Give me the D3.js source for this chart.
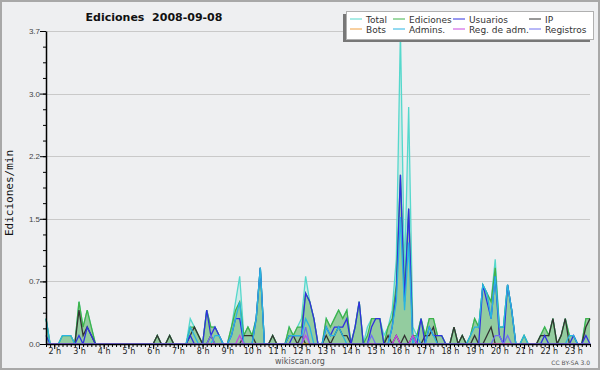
<!DOCTYPE html>
<html>
<head>
<meta charset="utf-8">
<script src="https://cdn.jsdelivr.net/npm/d3@7"></script>
<style>
body { margin: 0; background: #fff; }
svg { display: block; }
text { white-space: pre; }
</style>
</head>
<body>
<svg id="chart"></svg>
<script>
// edits per 10 minutes, one value every 10 min from 01:40 to 23:40
const startTime = new Date(2008, 8, 8, 1, 40);
const endTime = new Date(2008, 8, 8, 23, 40);

const total = [
  3,0,0,0,1,1,1,0,5,2,4,2,
  0,0,0,0,0,0,0,0,0,0,0,0,
  0,0,0,1,0,0,1,0,0,0,0,3,
  2,1,0,4,2,2,1,0,0,2,5,8,
  1,2,1,3,9,0,0,1,0,0,0,2,
  1,2,3,8,5,3,0,0,3,2,3,4,
  3,4,0,2,5,0,2,3,3,3,1,2,
  4,10,37,8,28,2,1,3,1,3,3,1,
  1,0,0,2,0,1,0,1,3,2,7,6,
  5,10,2,2,7,4,0,0,1,0,0,0,
  1,2,1,3,0,1,3,1,1,0,0,3,
  3];
const ediciones = [
  3,0,0,0,1,1,1,0,5,2,4,2,
  0,0,0,0,0,0,0,0,0,0,0,0,
  0,0,0,1,0,0,1,0,0,0,0,2,
  2,1,0,4,2,2,1,0,0,2,4,5,
  1,2,1,3,9,0,0,1,0,0,0,2,
  1,2,2,6,5,3,0,0,3,2,3,4,
  3,4,0,2,5,0,1,3,3,3,0,2,
  3,7,20,6,16,1,1,3,1,3,3,1,
  1,0,0,2,0,1,0,1,3,2,7,6,
  5,9,2,2,7,4,0,0,1,0,0,0,
  1,2,1,3,0,1,3,1,1,0,0,3,
  3];
const usuarios = [
  1,0,0,0,0,0,0,0,1,0,2,1,
  0,0,0,0,0,0,0,0,0,0,0,0,
  0,0,0,0,0,0,0,0,0,0,0,1,
  0,0,0,4,1,2,1,0,0,1,3,3,
  0,0,0,3,9,0,0,0,0,0,0,0,
  1,1,1,6,5,3,0,0,2,1,2,2,
  2,3,0,2,5,0,0,2,3,3,0,0,
  2,6,20,5,16,0,0,3,0,2,1,1,
  1,0,0,0,0,0,0,0,0,0,7,5,
  3,8,1,0,7,4,0,0,0,0,0,0,
  0,1,0,0,0,0,0,0,1,0,0,1,
  0];
const ip = [
  0,0,0,0,0,0,0,0,4,1,2,1,
  0,0,0,0,0,0,0,0,0,0,0,0,
  0,0,0,1,0,0,1,0,0,0,0,1,
  2,1,0,0,1,0,0,0,0,0,0,0,
  1,1,1,0,0,0,0,1,0,0,0,1,
  1,0,1,0,0,0,0,0,1,0,1,2,
  1,1,0,0,0,0,0,0,0,0,0,1,
  0,1,0,1,0,1,0,0,1,1,2,0,
  0,0,0,2,0,1,0,0,1,0,0,1,
  2,0,0,0,0,0,0,0,0,0,0,0,
  1,1,1,3,0,1,3,0,0,0,0,2,
  3];
const bots = [
  0,0,0,0,0,0,0,0,0,0,0,0,
  0,0,0,0,0,0,0,0,0,0,0,0,
  0,0,0,0,0,0,0,0,0,0,0,0,
  0,0,0,0,0,0,0,0,0,0,0,0,
  0,0,0,0,0,0,0,0,0,0,0,0,
  0,0,0,0,0,0,0,0,0,0,0,0,
  0,0,0,0,0,0,0,0,0,0,0,0,
  0,0,0,0,0,0,0,0,0,0,0,0,
  0,0,0,0,0,0,0,0,0,0,0,0,
  0,0,0,0,0,0,0,0,0,0,0,0,
  0,0,0,0,0,0,0,0,0,0,0,0,
  0];
const admins = [
  3,0,0,0,1,1,1,0,0,0,0,0,
  0,0,0,0,0,0,0,0,0,0,0,0,
  0,0,0,0,0,0,0,0,0,0,0,2,
  1,0,0,0,0,1,1,0,0,1,3,5,
  0,0,0,3,9,0,0,0,0,0,0,1,
  1,1,1,3,2,0,0,0,2,1,1,2,
  1,0,0,0,0,0,0,0,0,0,0,0,
  2,5,15,4,12,0,1,0,0,2,1,0,
  0,0,0,0,0,0,0,1,2,2,7,6,
  3,8,2,2,7,4,0,0,1,0,0,0,
  0,0,0,0,0,0,0,1,1,0,0,0,
  0];
const regAdm = [
  0,0,0,0,0,0,0,0,0,0,0,0,
  0,0,0,0,0,0,0,0,0,0,0,0,
  0,0,0,0,0,0,0,0,0,0,0,0,
  0,0,0,0,0,0,0,0,0,0,0,1,
  0,0,0,0,0,0,0,0,0,0,0,0,
  0,0,0,1,0,0,0,0,0,0,0,0,
  0,0,0,0,0,0,0,0,0,0,0,0,
  0,1,0,0,0,1,0,0,0,0,0,0,
  0,0,0,0,0,0,0,0,0,0,0,0,
  0,0,0,0,0,0,0,0,0,0,0,0,
  0,0,0,0,0,0,0,0,0,0,0,0,
  0];
const registros = [
  0,0,0,0,0,0,0,0,0,0,0,0,
  0,0,0,0,0,0,0,0,0,0,0,0,
  0,0,0,0,0,0,0,0,0,0,0,0,
  0,0,0,0,1,0,0,0,0,0,0,0,
  0,0,0,0,0,0,0,0,0,0,0,0,
  0,0,0,2,0,0,0,0,0,0,0,0,
  0,0,0,0,0,0,0,1,0,0,0,0,
  0,0,0,0,0,0,0,0,0,0,0,0,
  0,0,0,0,0,0,0,0,0,0,0,0,
  0,1,1,0,1,0,0,0,0,0,0,0,
  0,0,0,0,0,0,0,0,0,0,0,0,
  0];

const yMax = 3.7;
const hourLabels = d3.range(2, 24);

const series = [
  { name: "Total", values: total, color: "#55d8cc", fill: "rgba(150,225,215,0.35)" },
  { name: "Ediciones", values: ediciones, color: "#3fb34a", fill: "#93cc9f" },
  { name: "IP", values: ip, color: "#333333" },
  { name: "Usuarios", values: usuarios, color: "#3030e0" },
  { name: "Bots", values: bots, color: "#f0a040" },
  { name: "Admins.", values: admins, color: "#28b4e2" },
  { name: "Reg. de adm.", values: regAdm, color: "#c848e0" },
  { name: "Registros", values: registros, color: "#7070f0" }
];
const legendOrder = [
  ["Total", "Ediciones", "Usuarios", "IP"],
  ["Bots", "Admins.", "Reg. de adm.", "Registros"]
];

const width = 600;
const height = 370;
const margin = { top: 31, right: 10, bottom: 26, left: 46 };

const svg = d3.select("#chart")
    .attr("width", width)
    .attr("height", height);

// background and frame
svg.append("rect")
    .attr("x", 1).attr("y", 1)
    .attr("width", width - 2).attr("height", height - 2)
    .attr("fill", "#eeeff1")
    .attr("stroke", "#a8a8a8")
    .attr("stroke-width", 2);

const x = d3.scaleTime()
    .domain([startTime, endTime])
    .range([margin.left, width - margin.right]);
const y = d3.scaleLinear()
    .domain([0, yMax])
    .range([height - margin.bottom, margin.top]);

const times = total.map((d, i) => d3.timeMinute.offset(startTime, 10 * i));
const majorY = d3.range(0, 6).map(k => yMax * k / 5);
const minorY = d3.range(0, 21).map(k => yMax * k / 20);

// grid
svg.append("g")
    .selectAll("line")
    .data(majorY.slice(1))
    .enter().append("line")
    .attr("x1", margin.left).attr("x2", width - margin.right)
    .attr("y1", d => Math.round(y(d)) + 0.5).attr("y2", d => Math.round(y(d)) + 0.5)
    .attr("stroke", "#c9c9c9");

// series
const area = d3.area()
    .x((d, i) => x(times[i]))
    .y0(y(0))
    .y1(d => y(d / 10));
const line = d3.line()
    .x((d, i) => x(times[i]))
    .y(d => y(d / 10));

series.forEach(s => {
    if (s.fill) {
        svg.append("path")
            .datum(s.values)
            .attr("fill", s.fill)
            .attr("d", area);
    }
    svg.append("path")
        .datum(s.values)
        .attr("fill", "none")
        .attr("stroke", s.color)
        .attr("stroke-width", 1.3)
        .attr("stroke-linejoin", "miter")
        .attr("d", line);
});

// y axis
svg.append("g")
    .attr("transform", `translate(${margin.left},0)`)
    .call(d3.axisLeft(y).tickValues(minorY).tickSize(3).tickFormat("").tickSizeOuter(0))
    .call(g => g.select(".domain").remove())
    .selectAll("line").attr("stroke", "#000");
const yAxis = svg.append("g")
    .attr("transform", `translate(${margin.left},0)`)
    .call(d3.axisLeft(y).tickValues(majorY).tickSize(6).tickSizeOuter(0)
        .tickFormat(d3.format(".1f")));
yAxis.select(".domain").attr("stroke", "#000").attr("stroke-width", 1.5);
yAxis.selectAll("text")
    .attr("x", -6)
    .attr("fill", "#444")
    .style("font-family", "Liberation Sans")
    .style("font-size", "8px");

// x axis
svg.append("g")
    .attr("transform", `translate(0,${y(0)})`)
    .call(d3.axisBottom(x).ticks(d3.timeMinute.every(10)).tickSize(3).tickFormat("").tickSizeOuter(0))
    .call(g => g.select(".domain").attr("stroke", "#000").attr("stroke-width", 1.5))
    .selectAll("line").attr("stroke", "#000");
const xAxis = svg.append("g")
    .attr("transform", `translate(0,${y(0)})`)
    .call(d3.axisBottom(x)
        .tickValues(hourLabels.map(h => new Date(2008, 8, 8, h, 0)))
        .tickSize(5)
        .tickFormat(d => d.getHours() + " h"));
xAxis.select(".domain").remove();
xAxis.selectAll("text")
    .attr("y", 4)
    .attr("fill", "#222")
    .style("font-family", "DejaVu Sans")
    .style("font-size", "8px");

// titles
svg.append("text")
    .attr("x", 154).attr("y", 21)
    .attr("text-anchor", "middle")
    .style("font-family", "DejaVu Sans")
    .style("font-size", "11px")
    .style("font-weight", "bold")
    .attr("fill", "#111")
    .text("Ediciones  2008-09-08");

svg.append("text")
    .attr("transform", "translate(13,193) rotate(-90)")
    .attr("text-anchor", "middle")
    .style("font-family", "DejaVu Sans Mono")
    .style("font-size", "11px")
    .attr("fill", "#111")
    .text("Ediciones/min");

svg.append("text")
    .attr("x", 300).attr("y", 364)
    .attr("text-anchor", "middle")
    .style("font-family", "DejaVu Sans")
    .style("font-size", "8px")
    .attr("fill", "#555")
    .text("wikiscan.org");

svg.append("text")
    .attr("x", 590).attr("y", 365)
    .attr("text-anchor", "end")
    .style("font-family", "DejaVu Sans")
    .style("font-size", "6px")
    .attr("fill", "#555")
    .text("CC BY-SA 3.0");

// legend
const legend = svg.append("g");
legend.append("rect")
    .attr("x", 343).attr("y", 14)
    .attr("width", 247).attr("height", 28)
    .attr("fill", "#777");
legend.append("rect")
    .attr("x", 346.5).attr("y", 11.5)
    .attr("width", 247).attr("height", 28)
    .attr("fill", "#fff")
    .attr("stroke", "#b0b0b0");

const colX = [350, 393, 453, 529];
const rowY = [19, 29];
legendOrder.forEach((row, r) => {
    row.forEach((name, c) => {
        const s = series.find(d => d.name === name);
        legend.append("line")
            .attr("x1", colX[c]).attr("x2", colX[c] + 12)
            .attr("y1", rowY[r]).attr("y2", rowY[r])
            .attr("stroke", s.color);
        legend.append("text")
            .attr("x", colX[c] + 16).attr("y", rowY[r] + 3.5)
            .style("font-family", "DejaVu Sans")
            .style("font-size", "9px")
            .attr("fill", "#333")
            .text(name);
    });
});
</script>
</body>
</html>
